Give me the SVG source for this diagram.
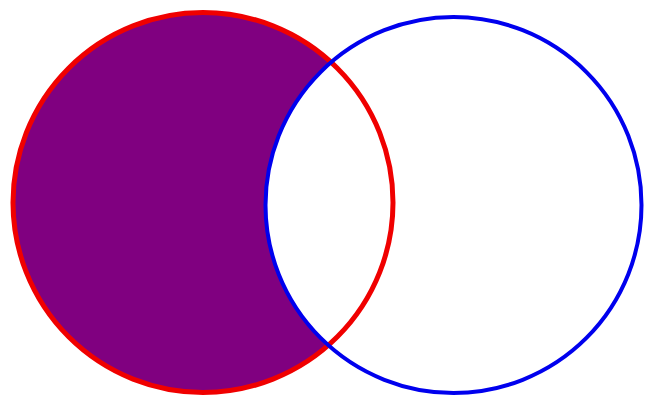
<svg xmlns="http://www.w3.org/2000/svg" width="645" height="399" viewBox="0 0 645 399">
  <style>
    .a { stroke: #f00000; stroke-width: 5; fill: none; }
    .b { stroke: #0000ee; stroke-width: 4; fill: none; }
  </style>
  <rect x="0" y="0" width="645" height="399" fill="#ffffff"/>
  <g id="setA-fill">
    <circle cx="203" cy="202.5" r="190" fill="#800080"/>
  </g>
  <g id="setB-fill">
    <circle cx="453.5" cy="205" r="188" fill="#ffffff"/>
  </g>
  <g id="setA">
    <circle class="a" cx="203" cy="202.5" r="190"/>
  </g>
  <g id="setB">
    <circle class="b" cx="453.5" cy="205" r="188"/>
  </g>
</svg>
